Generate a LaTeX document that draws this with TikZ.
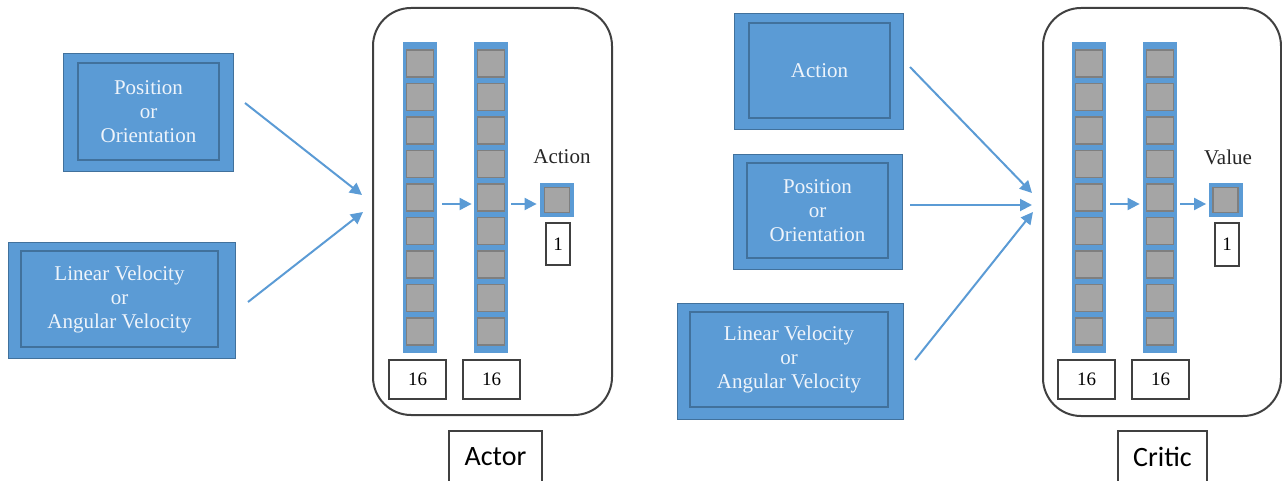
\documentclass[tikz,border=0pt]{standalone}
\usepackage{fontspec}
\setmainfont{Liberation Serif}
\newfontfamily\labelfont{Carlito}
\usetikzlibrary{arrows.meta}
\definecolor{boxblue}{HTML}{5B9BD5}
\definecolor{boxedge}{HTML}{41719C}
\definecolor{cellgray}{HTML}{A5A5A5}
\definecolor{celledge}{HTML}{7F7F7F}
\definecolor{framegray}{HTML}{404040}
\definecolor{boxtext}{HTML}{EEF4FB}
\begin{document}
\begin{tikzpicture}[x=0.5pt,y=-0.5pt,
  outerbox/.style={draw=boxedge, line width=0.4pt, fill=boxblue, inner sep=0pt},
  innerbox/.style={draw=boxedge, line width=0.8pt, inner sep=0pt, text=boxtext, font=\fontsize{10.5}{12}\selectfont, align=center},
  netframe/.style={draw=framegray, line width=1pt, rounded corners=19pt, inner sep=0pt},
  column/.style={fill=boxblue, inner sep=0pt, minimum width=17pt, minimum height=155.5pt},
  cell/.style={fill=cellgray, draw=celledge, line width=0.7pt, inner sep=0pt, minimum size=13.5pt},
  outcell/.style={fill=boxblue, inner sep=0pt, minimum size=17pt},
  sizebox/.style={draw=framegray, line width=0.7pt, inner sep=0pt, font=\fontsize{9.5}{12}\selectfont},
  namebox/.style={draw=framegray, line width=0.7pt, inner sep=0pt, font=\labelfont\fontsize{14}{16}\selectfont},
  arr/.style={draw=boxblue, line width=1pt, -{Triangle[length=6pt,width=6pt]}},
  tag/.style={font=\fontsize{10.5}{12}\selectfont, text=black!85, inner sep=0pt}
]
\useasboundingbox (0,0) rectangle (1282,481);

% ================= ACTOR =================
\node[outerbox, minimum width=85pt, minimum height=59pt] (posA) at (148,112) {};
\node[innerbox, minimum width=70.5pt, minimum height=48.5pt] (posAi) at (148.5,111.5) {Position\\or\\Orientation};
\node[outerbox, minimum width=113.5pt, minimum height=58pt] (velA) at (121.5,300) {};
\node[innerbox, minimum width=98.5pt, minimum height=48pt] (velAi) at (119.5,299) {Linear Velocity\\or\\Angular Velocity};

\node[netframe, minimum width=119.5pt, minimum height=203.5pt] (actor) at (492.5,211.5) {};
\node[column] (colA) at (420,197.5) {};
\node[column] (colB) at (491,197.5) {};
\foreach \k in {1,...,9} {
  \node[cell] (a\k) at (420,{63.5+33.5*(\k-1)}) {};
  \node[cell] (b\k) at (491,{63.5+33.5*(\k-1)}) {};
}
\node[outcell] (outA) at (557,200) {};
\node[cell, minimum size=12.5pt] (outAc) at (557,200) {};
\node[tag] (actLbl) at (562,157) {Action};
\node[sizebox, minimum width=12pt, minimum height=21pt] (oneA) at (558,244) {1};
\node[sizebox, minimum width=28.5pt, minimum height=19.5pt] (nA) at (417.5,379.5) {16};
\node[sizebox, minimum width=28.5pt, minimum height=19.5pt] (nB) at (491.5,379.5) {16};
\node[namebox, minimum width=46.5pt, minimum height=26pt] (actorName) at (495.5,457) {Actor};

\coordinate (pA1) at (245,103);
\coordinate (pA2) at (248,302);
\coordinate (eA1) at (362,195);
\coordinate (eA2) at (363,212);
\draw[arr] (pA1) -- (eA1);
\draw[arr] (pA2) -- (eA2);
\draw[arr] ([xshift=2.5pt,yshift=-3.25pt]colA.east) -- ([xshift=-1pt,yshift=-3.25pt]colB.west);
\draw[arr] ([xshift=1.5pt,yshift=-3.25pt]colB.east) -- ([xshift=-1.5pt,yshift=-2pt]outA.west);

% ================= CRITIC =================
\node[outerbox, minimum width=84.5pt, minimum height=58pt] (actC) at (818.5,71) {};
\node[innerbox, minimum width=70.5pt, minimum height=47.5pt] (actCi) at (819.5,70.5) {Action};
\node[outerbox, minimum width=84.5pt, minimum height=57.5pt] (posC) at (817.5,211.5) {};
\node[innerbox, minimum width=70.5pt, minimum height=47.5pt] (posCi) at (817.5,210.5) {Position\\or\\Orientation};
\node[outerbox, minimum width=113pt, minimum height=58pt] (velC) at (790,361) {};
\node[innerbox, minimum width=99pt, minimum height=47.5pt] (velCi) at (789,359.5) {Linear Velocity\\or\\Angular Velocity};

\node[netframe, minimum width=119pt, minimum height=204pt] (critic) at (1162,212) {};
\node[column] (colC) at (1089,197.5) {};
\node[column] (colD) at (1160,197.5) {};
\foreach \k in {1,...,9} {
  \node[cell] (c\k) at (1089,{63.5+33.5*(\k-1)}) {};
  \node[cell] (d\k) at (1160,{63.5+33.5*(\k-1)}) {};
}
\node[outcell] (outC) at (1225.5,200) {};
\node[cell, minimum size=12.5pt] (outCc) at (1225.5,200) {};
\node[tag] (valLbl) at (1228,157) {Value};
\node[sizebox, minimum width=12pt, minimum height=21.5pt] (oneC) at (1227,244.5) {1};
\node[sizebox, minimum width=28.5pt, minimum height=19.5pt] (nC) at (1086.5,379.5) {16};
\node[sizebox, minimum width=28.5pt, minimum height=19.5pt] (nD) at (1160.5,379.5) {16};
\node[namebox, minimum width=44.5pt, minimum height=26pt] (criticName) at (1162.5,457) {Critic};

\coordinate (pC1) at (910,67);
\coordinate (pC2) at (910,205);
\coordinate (pC3) at (915,360);
\coordinate (eC1) at (1032,193);
\coordinate (eC2) at (1032,205);
\coordinate (eC3) at (1033,212);
\draw[arr] (pC1) -- (eC1);
\draw[arr] (pC2) -- (eC2);
\draw[arr] (pC3) -- (eC3);
\draw[arr] ([xshift=2pt,yshift=-3.25pt]colC.east) -- ([xshift=-1.5pt,yshift=-3.25pt]colD.west);
\draw[arr] ([xshift=1.5pt,yshift=-3.25pt]colD.east) -- ([xshift=-1pt,yshift=-2pt]outC.west);
\end{tikzpicture}
\end{document}
